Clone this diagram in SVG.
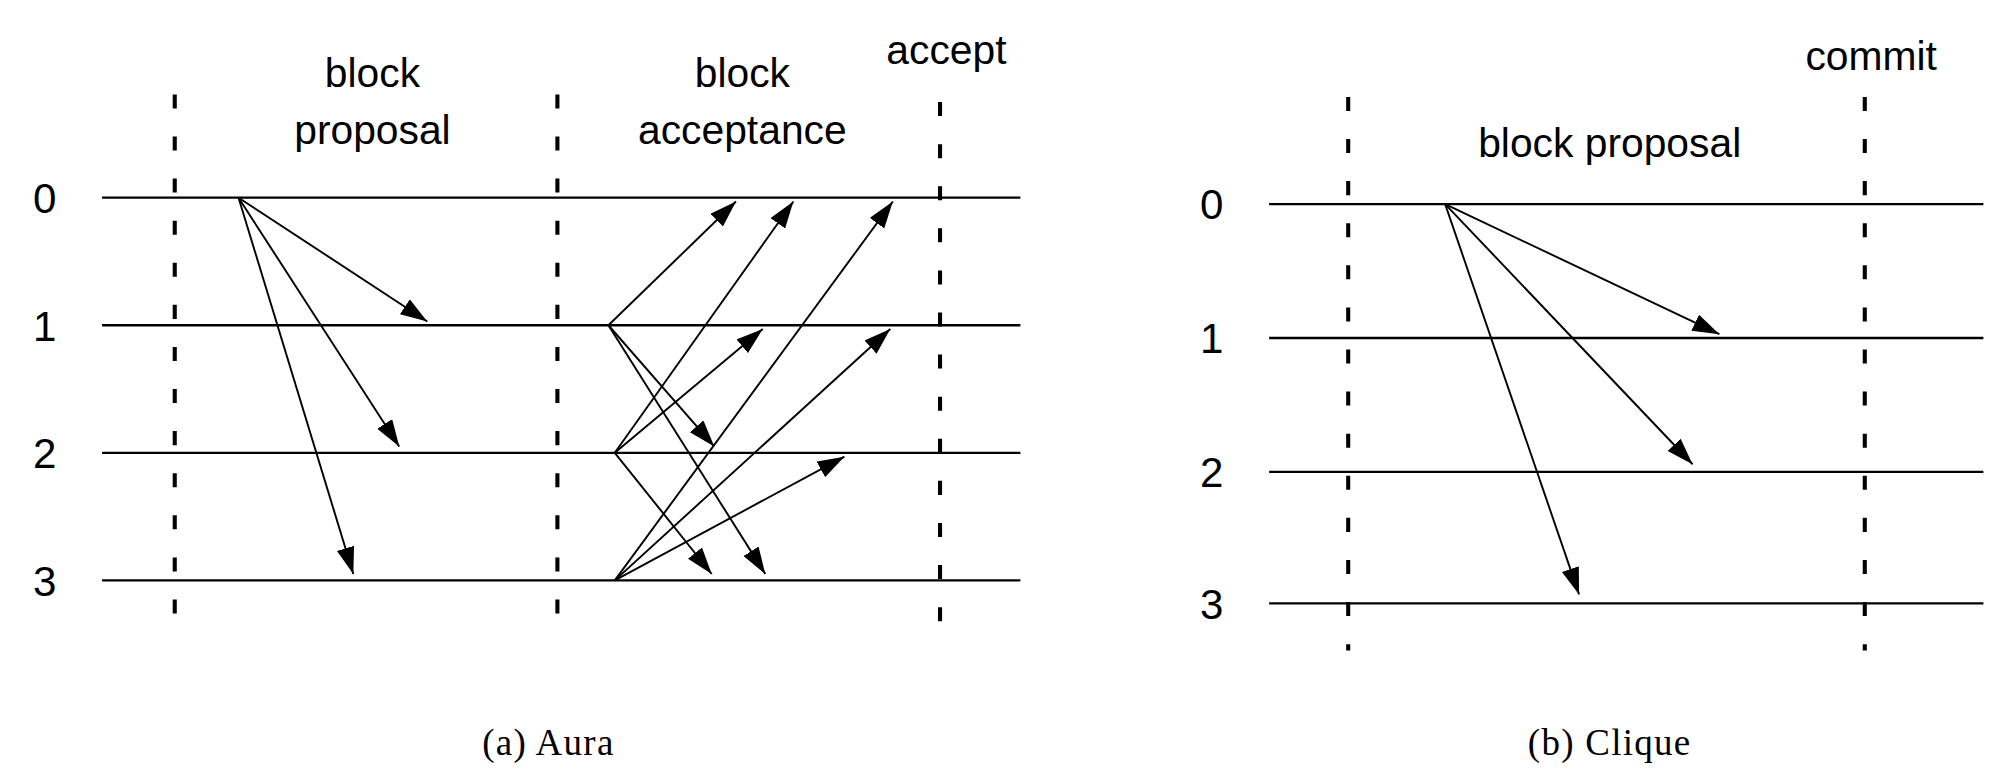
<svg xmlns="http://www.w3.org/2000/svg" width="2000" height="780" viewBox="0 0 2000 780">
<style>
.h{stroke:#000;stroke-width:1.8;fill:none}
.d{stroke:#000;stroke-width:3.2;stroke-dasharray:11 22;fill:none}
.a{stroke:#000;stroke-width:1.5;fill:none;marker-end:url(#ah)}
.t{font-family:"Liberation Sans",Arial,sans-serif;font-size:32px;fill:#000;text-anchor:middle}
.n{font-family:"Liberation Sans",Arial,sans-serif;font-size:33px;fill:#000;text-anchor:middle}
.c{font-family:"Liberation Serif","Times New Roman",serif;font-size:29px;fill:#000;text-anchor:middle;letter-spacing:1px}
</style>
<defs><marker id="ah" markerUnits="userSpaceOnUse" markerWidth="24" markerHeight="16" refX="21" refY="7" orient="auto"><path d="M0,0 L21,7 L0,14 Z" fill="#000"/></marker></defs>
<rect width="2000" height="780" fill="#fff"/>
<g transform="scale(1.2755)">
<g id="aura">
<g id="aura-lanes">
<line class="h" x1="80" y1="155" x2="800" y2="155"/>
<line class="h" x1="80" y1="255" x2="800" y2="255"/>
<line class="h" x1="80" y1="355" x2="800" y2="355"/>
<line class="h" x1="80" y1="455" x2="800" y2="455"/>
<line class="d" x1="137" y1="74" x2="137" y2="492"/>
<line class="d" x1="437" y1="74" x2="437" y2="492"/>
<line class="d" x1="737" y1="80" x2="737" y2="500"/>
</g>
<g id="aura-labels">
<text class="n" x="35" y="167">0</text>
<text class="n" x="35" y="267">1</text>
<text class="n" x="35" y="367">2</text>
<text class="n" x="35" y="467">3</text>
<text class="t" x="292" y="68">block</text>
<text class="t" x="292" y="113">proposal</text>
<text class="t" x="582" y="68">block</text>
<text class="t" x="582" y="113">acceptance</text>
<text class="t" x="742" y="50">accept</text>
<text class="c" x="430" y="592">(a)  Aura</text>
</g>
</g>
<g id="clique">
<g id="clique-lanes">
<line class="h" x1="995" y1="160" x2="1555" y2="160"/>
<line class="h" x1="995" y1="265" x2="1555" y2="265"/>
<line class="h" x1="995" y1="370" x2="1555" y2="370"/>
<line class="h" x1="995" y1="473" x2="1555" y2="473"/>
<line class="d" x1="1057" y1="76" x2="1057" y2="510"/>
<line class="d" x1="1462" y1="76" x2="1462" y2="510"/>
</g>
<g id="clique-labels">
<text class="n" x="950" y="172">0</text>
<text class="n" x="950" y="277">1</text>
<text class="n" x="950" y="382">2</text>
<text class="n" x="950" y="485">3</text>
<text class="t" x="1262" y="123">block proposal</text>
<text class="t" x="1467" y="55">commit</text>
<text class="c" x="1262" y="592">(b)  Clique</text>
</g>
</g>
<g id="connectors">
<line class="a" x1="187" y1="155" x2="335" y2="252"/>
<line class="a" x1="187" y1="155" x2="313" y2="350"/>
<line class="a" x1="187" y1="155" x2="277" y2="450"/>
<line class="a" x1="477" y1="255" x2="577" y2="158"/>
<line class="a" x1="477" y1="255" x2="560" y2="350"/>
<line class="a" x1="477" y1="255" x2="600" y2="450"/>
<line class="a" x1="482" y1="355" x2="598" y2="258"/>
<line class="a" x1="482" y1="355" x2="622" y2="158"/>
<line class="a" x1="482" y1="355" x2="558" y2="450"/>
<line class="a" x1="482" y1="455" x2="700" y2="158"/>
<line class="a" x1="482" y1="455" x2="698" y2="258"/>
<line class="a" x1="482" y1="455" x2="662" y2="358"/>
<line class="a" x1="1133" y1="160" x2="1348" y2="262"/>
<line class="a" x1="1133" y1="160" x2="1327" y2="364"/>
<line class="a" x1="1133" y1="160" x2="1238" y2="466"/>
</g>
</g>
</svg>
